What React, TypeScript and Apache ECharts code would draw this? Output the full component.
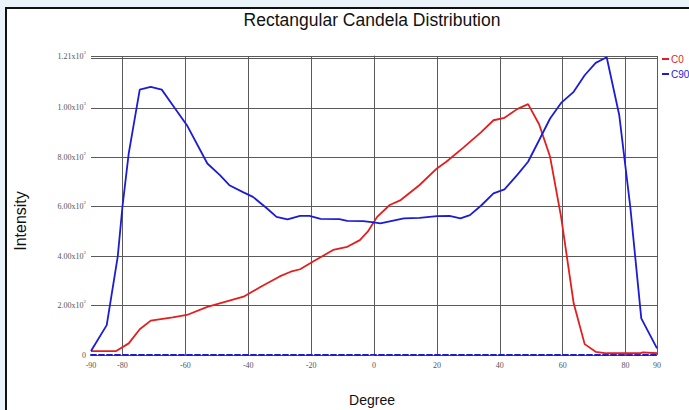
import React, { useEffect, useRef } from "react";
import * as echarts from "echarts";

const c0Deg = [-90, -82, -78, -74.5, -71, -64, -59.5, -53, -46, -41.5, -36, -30, -26.5, -23.5, -19.5, -13, -8.5, -4.5, -2, 1, 5, 8.5, 14.5, 20, 23, 28.5, 34, 38, 41.5, 45.5, 49, 52.5, 56, 59.5, 63.5, 67, 70.5, 74, 84.5, 85.5, 90];
const c0Val = [16, 16, 47, 104, 139, 152, 162, 195, 220, 236, 276, 318, 337, 347, 377, 425, 438, 465, 499, 559, 607, 627, 688, 755, 782, 840, 901, 950, 960, 995, 1015, 934, 802, 559, 209, 44, 13, 7, 7, 11, 7];

const c90Deg = [-90, -85, -81.5, -80, -78, -74.5, -71, -67.5, -64, -59.5, -53, -49, -46, -41.5, -38.5, -34, -31, -27.5, -23.5, -20.5, -17, -11, -8.5, -3.5, 0, 2, 5, 9.5, 14.5, 20, 24, 27.5, 30.5, 34, 38, 41.5, 45.5, 49, 52.5, 56, 59.5, 63.5, 67, 70.5, 74, 78, 81.5, 85, 90];
const c90Val = [16, 121, 398, 600, 816, 1074, 1085, 1074, 1011, 930, 775, 728, 687, 658, 640, 593, 559, 549, 563, 563, 551, 550, 543, 542, 537, 533, 541, 553, 555, 562, 563, 553, 566, 604, 654, 670, 728, 782, 869, 957, 1020, 1065, 1132, 1182, 1205, 970, 600, 148, 27];

const seriesNames = ["C0", "C90"];
const seriesColors = ["#e41e1e", "#1c1cd6"];
const title = "Rectangular Candela Distribution";
const xName = "Degree";
const yName = "Intensity";
const xMin = -90;
const xMax = 90;
const yMax = 1210;

function sciLabel(v: number): string {
  if (v === 0) return "0";
  const e = Math.floor(Math.log10(v) + 1e-9);
  const m = v / Math.pow(10, e);
  return `{a|${m.toFixed(2)}x10}{s|${e}}`;
}

export default function App() {
  const ref = useRef<HTMLDivElement>(null);
  useEffect(() => {
    if (!ref.current) return;
    const chart = echarts.init(ref.current, null, { renderer: "svg" });
    const xSplitColors: string[] = [];
    for (let v = xMin; v <= xMax; v += 10) {
      if (v === xMin) xSplitColors.push("rgba(0,0,0,0)");
      else if (v === xMax || v % 20 === 0) xSplitColors.push("#5a5a5a");
      else xSplitColors.push("rgba(0,0,0,0)");
    }
    chart.setOption({
      animation: false,
      backgroundColor: "#eaf3fa",
      title: {
        text: title,
        left: 367,
        top: 6,
        textAlign: "center",
        textStyle: { fontFamily: "Liberation Sans", fontSize: 17.5, fontWeight: "normal", color: "#111" },
      },
      graphic: [
        {
          type: "rect",
          z: -10,
          shape: { x: 6, y: 8, width: 720, height: 440 },
          style: { fill: "#ffffff", stroke: "#111", lineWidth: 2 },
        },
        {
          type: "text",
          x: 20,
          y: 221,
          rotation: Math.PI / 2,
          style: {
            text: yName,
            fontFamily: "Liberation Sans",
            fontSize: 16,
            fill: "#111",
            align: "center",
            verticalAlign: "middle",
          },
        },
        {
          type: "text",
          x: 372,
          y: 400,
          style: {
            text: xName,
            fontFamily: "Liberation Sans",
            fontSize: 14,
            fill: "#111",
            align: "center",
            verticalAlign: "middle",
          },
        },
      ],
      legend: {
        orient: "vertical",
        left: 662,
        top: 54,
        padding: 0,
        itemGap: 5,
        itemWidth: 7,
        itemHeight: 2,
        icon: "rect",
        textStyle: { fontFamily: "Liberation Sans", fontSize: 10, padding: [0, 0, 0, -3] },
        data: seriesNames.map((n, i) => ({ name: n, textStyle: { color: seriesColors[i] } })),
      },
      grid: { left: 91, right: 32, top: 56, bottom: 55, containLabel: false },
      xAxis: {
        type: "value",
        min: xMin,
        max: xMax,
        interval: 10,
        axisLine: { show: true, lineStyle: { color: "#1c1cd6", type: [5, 3], width: 2 } },
        axisTick: { show: false },
        axisLabel: {
          margin: 6,
          fontFamily: "Liberation Serif",
          fontSize: 8,
          color: "#555",
          formatter: (v: number) => (v % 20 === 0 || v === xMin || v === xMax ? String(v) : ""),
        },
        splitLine: { show: true, lineStyle: { color: xSplitColors, width: 1 } },
      },
      yAxis: {
        type: "value",
        min: 0,
        max: yMax,
        interval: 200,
        axisLine: { show: true, lineStyle: { color: "#5a5a5a", width: 1 } },
        axisTick: { show: true, length: 3, lineStyle: { color: "#5a5a5a" } },
        axisLabel: {
          margin: 5,
          fontFamily: "Liberation Serif",
          fontSize: 8,
          color: "#555",
          formatter: (v: number) => (v === 1200 ? "" : sciLabel(v)),
          rich: {
            a: { fontFamily: "Liberation Serif", fontSize: 8, color: "#555" },
            s: { fontFamily: "Liberation Serif", fontSize: 5, color: "#555", padding: [0, 0, 8, 0] },
          },
        },
        splitLine: { show: true, lineStyle: { color: "#5a5a5a", width: 1 } },
      },
      series: [
        {
          name: seriesNames[0],
          type: "line",
          showSymbol: false,
          data: c0Deg.map((d, i) => [d, c0Val[i]]),
          lineStyle: { color: seriesColors[0], width: 1.8 },
          itemStyle: { color: seriesColors[0] },
          z: 3,
        },
        {
          name: seriesNames[1],
          type: "line",
          showSymbol: false,
          data: c90Deg.map((d, i) => [d, c90Val[i]]),
          lineStyle: { color: seriesColors[1], width: 1.8 },
          itemStyle: { color: seriesColors[1] },
          z: 3,
        },
      ],
    });
    return () => chart.dispose();
  }, []);
  return (
    <div
      ref={ref}
      style={{ position: "fixed", left: 0, top: 0, width: 689, height: 410 }}
    />
  );
}
